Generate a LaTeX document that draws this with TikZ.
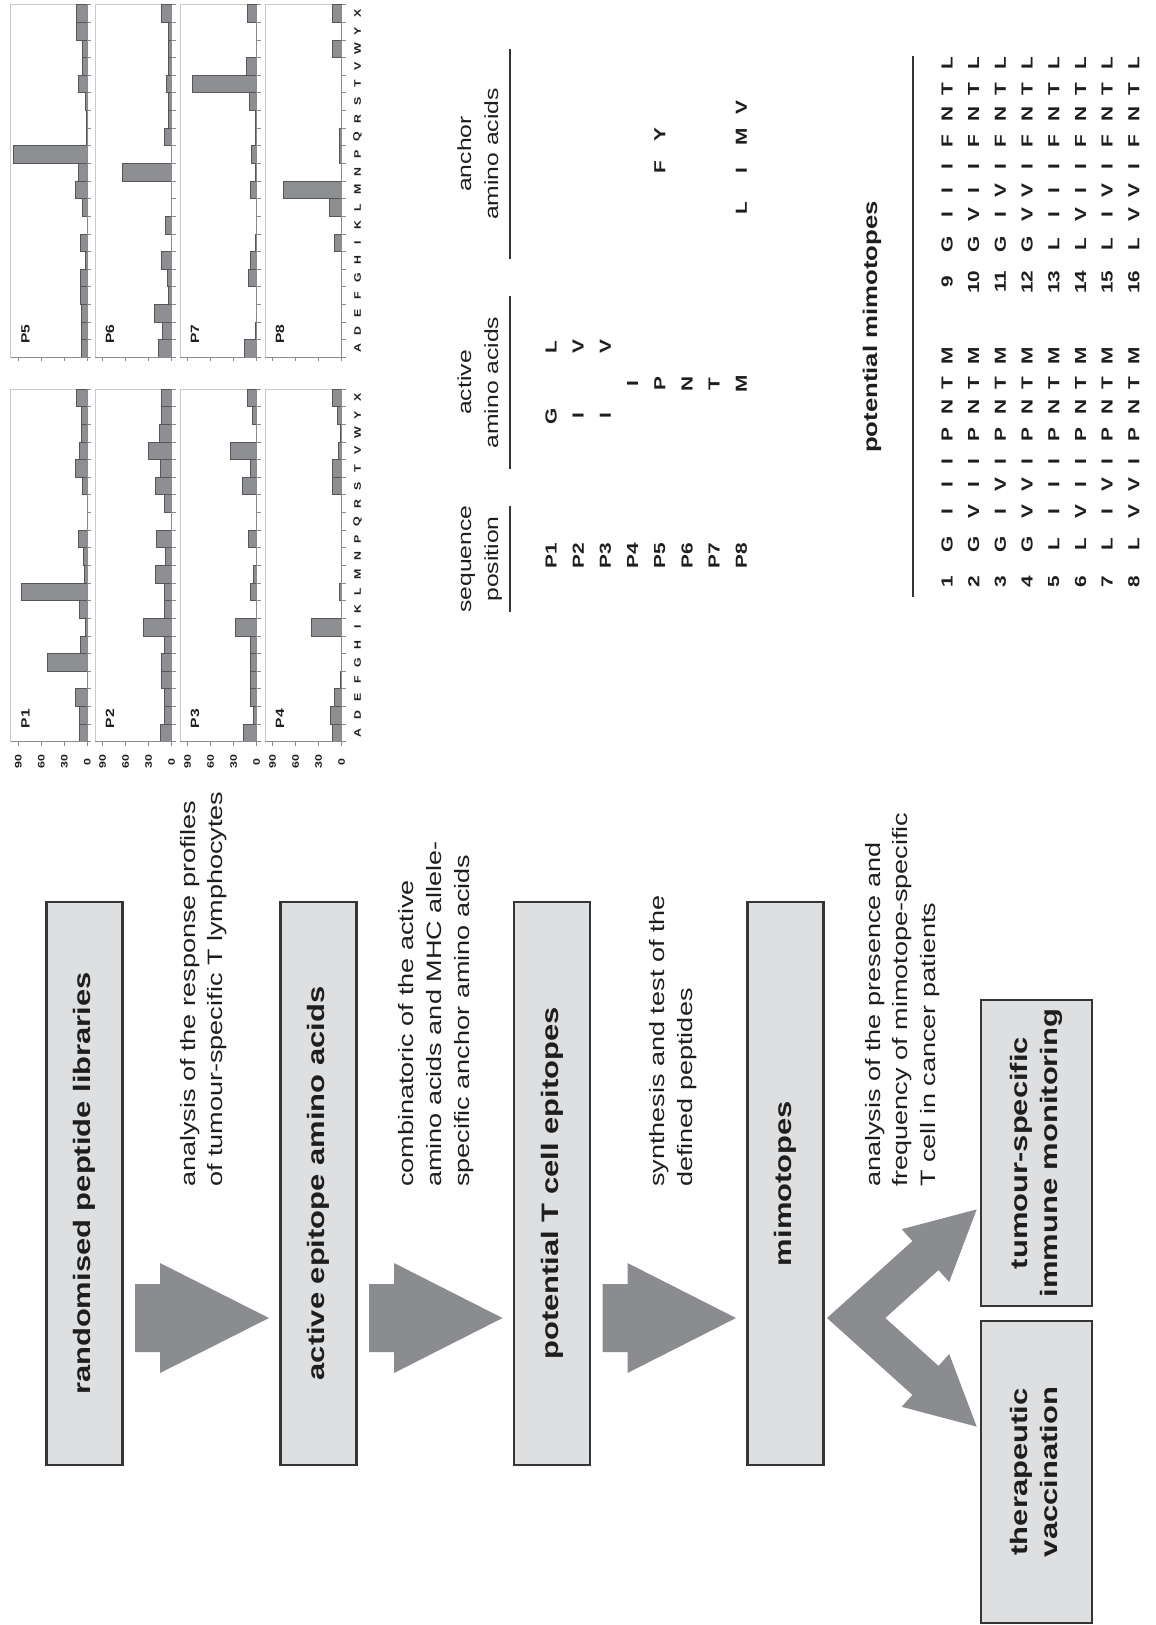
\documentclass[tikz,border=0pt]{standalone}
\usepackage{fontspec}
\setmainfont{Liberation Sans}[FakeStretch=1.3]
\usetikzlibrary{calc}
\definecolor{boxfill}{HTML}{DEDFE1}
\definecolor{boxline}{HTML}{353535}
\definecolor{arrowgray}{HTML}{8B8C90}
\definecolor{barfill}{HTML}{8E8F92}
\definecolor{barline}{HTML}{55565A}
\definecolor{framegray}{HTML}{C9C9C9}
\definecolor{axisgray}{HTML}{8A8A8A}
\definecolor{txt}{HTML}{1E1E1E}
\newcommand\lblfont{\fontsize{23.8}{30}\selectfont\bfseries}
\newcommand\txtfont{\fontsize{20.8}{27}\selectfont}
\newcommand\hdrfont{\fontsize{19}{23}\selectfont}
\newcommand\ttlfont{\fontsize{19.8}{24}\selectfont\bfseries}
\newcommand\letfont{\fontsize{16}{19}\selectfont\bfseries}
\newcommand\chtfont{\fontsize{9.5}{11}\selectfont\bfseries}
\newcommand\plabfont{\fontsize{12}{14}\selectfont\bfseries}
% #1 baseline x, #2 top y, #3 label, #4 values
\newcommand\chartpanel[4]{%
  \draw[framegray, line width=0.8pt] ({#1-76.5},#2) rectangle (#1,{#2+352.7});
  \foreach \v [count=\k from 0] in {#4} {%
    \ifdim \v pt>0pt
      \filldraw[fill=barfill, draw=barline, line width=0.7pt]
        ({#1-\v*0.767},{#2+352.7-(\k+1)*17.635}) rectangle (#1,{#2+352.7-\k*17.635});
    \fi}
  \draw[axisgray, line width=0.8pt] (#1,#2) -- (#1,{#2+352.7});
  \foreach \k in {0,...,20} \draw[axisgray, line width=0.7pt] (#1,{#2+\k*17.635}) -- ++(4,0);
  \draw[axisgray, line width=0.8pt] ({#1-76.5},{#2+352.7}) -- (#1,{#2+352.7});
  \foreach \t in {0,30,60,90} \draw[axisgray, line width=0.7pt] ({#1-\t*0.767},{#2+352.7}) -- ++(0,4);
  \node[chlab, font=\plabfont] (#3) at ({#1-61.8},{#2+329.5}) {#3};
}
\begin{document}
\begin{tikzpicture}[x=1pt,y=-1pt,
  flowbox/.style={draw=boxline, fill=boxfill, line width=2.6pt, inner sep=0pt, outer sep=0pt,
    font=\lblfont, text=txt, align=center},
  rtext/.style={rotate=90, inner sep=0pt, text=txt},
  smalltxt/.style={rtext, font=\txtfont, anchor=base west},
  hdr/.style={rtext, font=\hdrfont, anchor=base},
  aa/.style={rtext, font=\letfont, anchor=center},
  plab/.style={rtext, font=\letfont, anchor=west},
  chlab/.style={rtext, font=\chtfont, anchor=center},
  rulestyle/.style={draw=boxline, line width=2pt}]
\useasboundingbox (0,0) rectangle (1156,1625);
\fill[white] (0,0) rectangle (1156,1625);

% ---------------- charts ----------------
\chartpanel{87.3}{4.6}{P5}{8,8,8,9.5,9.5,3,9.5,0,6,15,12,96,1,1,2,12,7,7,14,14}
\chartpanel{171.7}{4.6}{P6}{18,12,22,4,6,13.5,1,8,0,1,64,1,9,4,4,6.5,4,4,5,13}
\chartpanel{256.7}{4.6}{P7}{16,2,1,1,11,8,2,1,1,8,2,6.5,2,2,9,84,14,1,1,12}
\chartpanel{341.7}{4.6}{P8}{0,0,0,0,0,0,10,0,16.5,76,0,3,3,0,0,0,0,12,0,12}
\chartpanel{87.3}{389}{P1}{10,10,15,0,52,9,2,10,86,4,5,12,0,0.5,6,15,10,8,8,14}
\chartpanel{171.7}{389}{P2}{15,9,9,14,14,9,37,10,9,21,8,20,0,9,21,15,30,16,14,13}
\chartpanel{256.7}{389}{P3}{17,4,8,8,8,8,28,0,8,4,1,11,0,0,19,8,35,1,6,12}
\chartpanel{341.7}{389}{P4}{12,15,9,2,0,0,39,0,3,0,0,0,0,0,12,12,4,2,6,12}
\foreach \c [count=\k from 0] in {A,D,E,F,G,H,I,K,L,M,N,P,Q,R,S,T,V,W,Y,X} {
  \node[chlab] (cu\k) at (357.5,{357.3-(\k+0.5)*17.635}) {\c};
  \node[chlab] (cl\k) at (357.5,{741.7-(\k+0.5)*17.635}) {\c};
}
\foreach \xb [count=\j] in {87.3,171.7,256.7,341.7}
  \foreach \t in {0,30,60,90}
    \node[chlab] (val\j-\t) at ({\xb-\t*0.767},761.7) {\t};

% ---------------- table: positions ----------------
\node[hdr] (h1a) at (471,559) {sequence};
\node[hdr] (h1b) at (498,559) {position};
\node[hdr] (h2a) at (471,382.5) {active};
\node[hdr] (h2b) at (498,382.5) {amino acids};
\node[hdr] (h3a) at (471,154) {anchor};
\node[hdr] (h3b) at (498,154) {amino acids};
\draw[rulestyle] (510,506) -- (510,612);
\draw[rulestyle] (510,296) -- (510,469);
\draw[rulestyle] (510,49) -- (510,259);
\foreach \k in {1,...,8}
  \node[plab] (pos\k) at ({551+27.2*(\k-1)},569) {P\k};
\node[aa] (a1g) at (551,416) {G};     \node[aa] (a1l) at (551,347) {L};
\node[aa] (a2i) at (578.2,416) {I};   \node[aa] (a2v) at (578.2,347) {V};
\node[aa] (a3i) at (605.4,416) {I};   \node[aa] (a3v) at (605.4,347) {V};
\node[aa] (a4i) at (632.6,384) {I};
\node[aa] (a5p) at (659.8,384) {P};
\node[aa] (a6n) at (687,384) {N};
\node[aa] (a7t) at (714.2,384) {T};
\node[aa] (a8m) at (741.4,384) {M};
\node[aa] (n5f) at (659.8,167) {F};   \node[aa] (n5y) at (659.8,135) {Y};
\node[aa] (n8l) at (741.4,208) {L};   \node[aa] (n8i) at (741.4,171) {I};
\node[aa] (n8m) at (741.4,137) {M};   \node[aa] (n8v) at (741.4,108) {V};

% ---------------- mimotopes table ----------------
\node[rtext, font=\ttlfont, anchor=center] (mtitle) at (872,327) {potential mimotopes};
\draw[rulestyle] (913,56) -- (913,597);
\foreach \a/\b/\c [count=\k] in {G/I/I, G/V/I, G/I/V, G/V/V, L/I/I, L/V/I, L/I/V, L/V/V} {
  \pgfmathsetmacro\rx{947+26.7*(\k-1)}
  \pgfmathtruncatemacro\rr{\k+8}
  \node[aa] (ln\k) at (\rx,582) {\k};
  \node[aa] (la\k) at (\rx,544) {\a};
  \node[aa] (lb\k) at (\rx,512) {\b};
  \node[aa] (lc\k) at (\rx,485) {\c};
  \node[aa] (ld\k) at (\rx,462) {I};
  \node[aa] (le\k) at (\rx,435) {P};
  \node[aa] (lf\k) at (\rx,407) {N};
  \node[aa] (lg\k) at (\rx,383) {T};
  \node[aa] (lh\k) at (\rx,356) {M};
  \node[aa] (rn\k) at (\rx,282) {\rr};
  \node[aa] (ra\k) at (\rx,244) {\a};
  \node[aa] (rb\k) at (\rx,215) {\b};
  \node[aa] (rc\k) at (\rx,191) {\c};
  \node[aa] (rd\k) at (\rx,167) {I};
  \node[aa] (re\k) at (\rx,141) {F};
  \node[aa] (rf\k) at (\rx,114) {N};
  \node[aa] (rg\k) at (\rx,89) {T};
  \node[aa] (rh\k) at (\rx,63) {L};
}

% ---------------- flowchart ----------------
\node[flowbox, minimum width=76pt, minimum height=563pt] (b1) at (84.5,1183.5)
  {\rotatebox{90}{randomised peptide libraries}};
\node[flowbox, minimum width=76pt, minimum height=563pt] (b2) at (318.5,1183.5)
  {\rotatebox{90}{active epitope amino acids}};
\node[flowbox, minimum width=76pt, minimum height=563pt] (b3) at (552,1183.5)
  {\rotatebox{90}{potential T cell epitopes}};
\node[flowbox, minimum width=76pt, minimum height=563pt] (b4) at (785.5,1183.5)
  {\rotatebox{90}{mimotopes}};
\node[flowbox, minimum width=111pt, minimum height=306pt] (b6) at (1036.5,1153)
  {\rotatebox{90}{\begin{tabular}{@{}c@{}}tumour-specific\\immune monitoring\end{tabular}}};
\node[flowbox, minimum width=111pt, minimum height=302pt] (b5) at (1036.5,1472)
  {\rotatebox{90}{\begin{tabular}{@{}c@{}}therapeutic\\vaccination\end{tabular}}};

\newcommand\blockarrow[2]{%
  \fill[arrowgray] ($(#1.east)+(12.5,100.5)$) -- ($(#1.east)+(37.5,100.5)$)
    -- ($(#1.east)+(37.5,79.5)$) -- ($(#2.west)+(-11.5,134.5)$)
    -- ($(#1.east)+(37.5,189.5)$) -- ($(#1.east)+(37.5,168.5)$)
    -- ($(#1.east)+(12.5,168.5)$) -- cycle;}
\blockarrow{b1}{b2}
\blockarrow{b2}{b3}
\blockarrow{b3}{b4}

\fill[arrowgray] ($(b4.east)+(3.5,134.5)$) -- ($(b4.east)+(88.9,57.6)$)
  -- ($(b4.east)+(78.2,45.7)$) -- ($(b6.west)+(-4.3,56.4)$)
  -- ($(b4.east)+(125.7,98.5)$) -- ($(b4.east)+(115,86.6)$)
  -- ($(b4.east)+(61.8,134.5)$) -- ($(b4.east)+(115,182.4)$)
  -- ($(b4.east)+(125.7,170.5)$) -- ($(b5.west)+(-4.3,-45.4)$)
  -- ($(b4.east)+(78.2,223.3)$) -- ($(b4.east)+(88.9,211.4)$) -- cycle;

\node[smalltxt] (t1a) at (195,1187) {analysis of the response profiles};
\node[smalltxt] (t1b) at (222,1187) {of tumour-specific T lymphocytes};
\node[smalltxt] (t2a) at (413,1187) {combinatoric of the active};
\node[smalltxt] (t2b) at (441,1187) {amino acids and MHC allele-};
\node[smalltxt] (t2c) at (469,1187) {specific anchor amino acids};
\node[smalltxt] (t3a) at (664,1187) {synthesis and test of the};
\node[smalltxt] (t3b) at (692,1187) {defined peptides};
\node[smalltxt] (t4a) at (880,1187) {analysis of the presence and};
\node[smalltxt] (t4b) at (907.5,1187) {frequency of mimotope-specific};
\node[smalltxt] (t4c) at (935,1187) {T cell in cancer patients};
\end{tikzpicture}
\end{document}
